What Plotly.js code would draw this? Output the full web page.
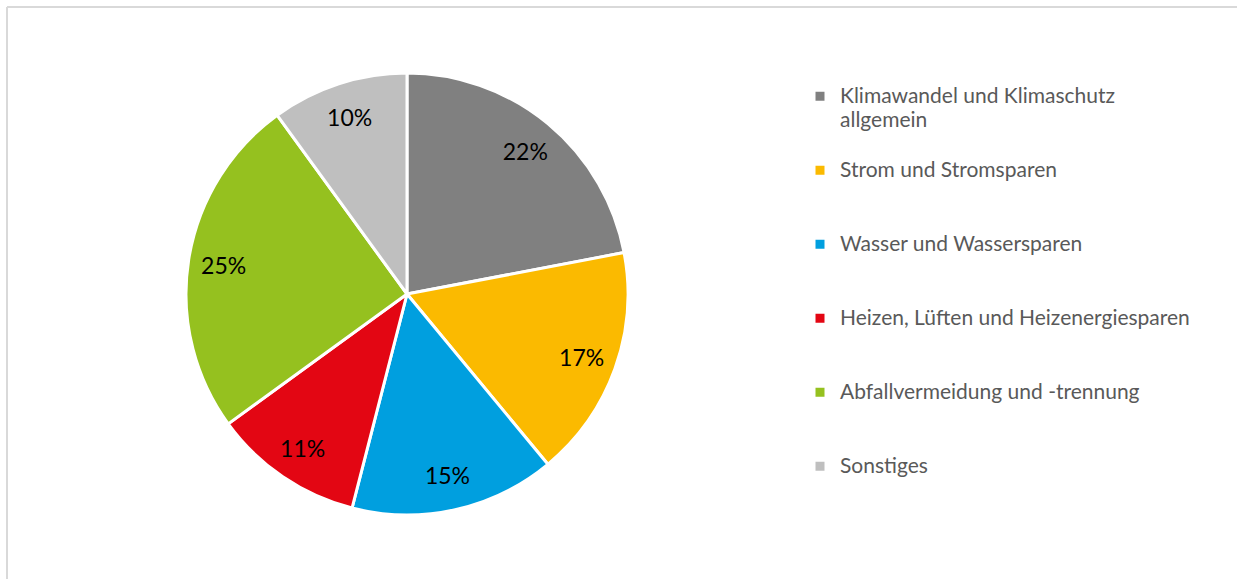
<!DOCTYPE html>
<html>
<head>
<meta charset="utf-8">
<script src="https://cdn.plot.ly/plotly-3.0.1.min.js"></script>
<style>
  html, body { margin: 0; padding: 0; background: #ffffff; }
  #chart { width: 1237px; height: 579px; }
</style>
</head>
<body>
<div id="chart"></div>
<script>
// Data
const categories = [
  "Klimawandel und Klimaschutz<br>allgemein",
  "Strom und Stromsparen",
  "Wasser und Wassersparen",
  "Heizen, Lüften und Heizenergiesparen",
  "Abfallvermeidung und -trennung",
  "Sonstiges"
];
const shares = [22, 17, 15, 11, 25, 10];
const sliceColors = ["#808080", "#FBBA00", "#009FDF", "#E30613", "#95C11F", "#BFBFBF"];

// Legend labels: visible text in a span, padded so every entry has equal height
const legendLabels = categories.map(function (c) {
  const parts = c.split("<br>");
  const shown = parts.map(function (p) { return '<span style="font-size:21px">' + p + '</span>'; });
  while (shown.length < 3) shown.push(" ");
  return shown.join("<br>");
});

const W = 1237, H = 579;
const cx = 407, cy = 294, r = 221;
const dom = { x: [(cx - r) / W, (cx + r) / W], y: [(H - cy - r) / H, (H - cy + r) / H] };

// Slices
const pieTrace = {
  type: "pie",
  labels: legendLabels,
  values: shares,
  sort: false,
  direction: "clockwise",
  rotation: 0,
  marker: { colors: sliceColors, line: { color: "#ffffff", width: 3 } },
  textinfo: "none",
  hoverinfo: "label+percent",
  domain: dom
};

// Percentage labels, placed by the library in an outer ring of the same pie
const labelTrace = {
  type: "pie",
  labels: legendLabels,
  values: shares,
  sort: false,
  direction: "clockwise",
  rotation: 0,
  hole: 0.68,
  showlegend: false,
  marker: { colors: sliceColors.map(function () { return "rgba(0,0,0,0)"; }), line: { width: 0 } },
  texttemplate: "%{value}%",
  textposition: "inside",
  insidetextorientation: "horizontal",
  insidetextfont: { family: "Lato, 'Open Sans', sans-serif", size: 23, color: "#000000" },
  hoverinfo: "skip",
  domain: dom
};

const layout = {
  width: W,
  height: H,
  margin: { l: 0, r: 0, t: 0, b: 0 },
  paper_bgcolor: "#ffffff",
  showlegend: true,
  legend: {
    x: 800 / W,
    xanchor: "left",
    y: 1 - 78 / H,
    yanchor: "top",
    valign: "top",
    font: { family: "Lato, 'Open Sans', sans-serif", size: 18.2, color: "#595959" },
    bgcolor: "rgba(0,0,0,0)",
    borderwidth: 0
  },
  shapes: [
    { type: "line", xref: "paper", yref: "paper", x0: 7 / W, x1: 7 / W, y0: 0, y1: 1 - 7 / H,
      line: { color: "#D9D9D9", width: 2 } },
    { type: "line", xref: "paper", yref: "paper", x0: 7 / W, x1: 1, y0: 1 - 7 / H, y1: 1 - 7 / H,
      line: { color: "#D9D9D9", width: 2 } }
  ]
};

Plotly.newPlot("chart", [pieTrace, labelTrace], layout, { displayModeBar: false, staticPlot: true });
</script>
</body>
</html>
